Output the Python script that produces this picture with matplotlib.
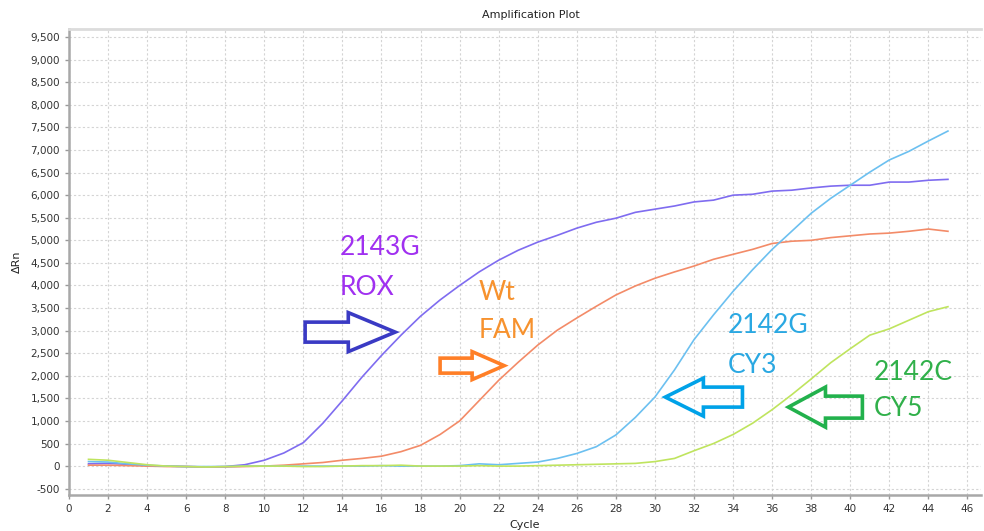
import matplotlib
matplotlib.use('Agg')
import matplotlib.pyplot as plt
import matplotlib.patches as mpatches
import numpy as np

cycles = np.arange(1, 46)

rox = [50, 60, 40, 10, 0, -10, -20, -10, 30, 130, 290, 520, 950, 1450, 1970,
       2450, 2900, 3320, 3680, 4000, 4300, 4560, 4780, 4960, 5110, 5270, 5400,
       5490, 5620, 5690, 5760, 5850, 5890, 6000, 6020, 6090, 6110, 6160, 6200,
       6220, 6220, 6290, 6290, 6330, 6350]
fam = [20, 20, 10, 0, -10, -10, -20, -20, -10, 0, 20, 50, 80, 130, 170,
       220, 320, 460, 700, 1000, 1450, 1900, 2300, 2680, 3010, 3280, 3540,
       3790, 3990, 4160, 4300, 4430, 4580, 4690, 4800, 4930, 4980, 5000, 5060,
       5100, 5140, 5160, 5200, 5250, 5200]
cy3 = [100, 90, 50, 20, 0, -10, -10, -10, 0, 0, 0, 0, 0, 0, 0,
       10, 0, 0, 0, 10, 50, 30, 60, 90, 170, 280, 430, 690, 1080, 1530,
       2130, 2800, 3350, 3870, 4350, 4800, 5200, 5600, 5930, 6220, 6510, 6780,
       6970, 7200, 7420]
cy5 = [150, 130, 80, 30, 0, -10, -20, -10, 0, 0, 0, -10, -10, 0, 10,
       10, 20, 0, 0, 0, 10, 0, 0, 10, 20, 30, 40, 50, 60, 100,
       170, 340, 500, 700, 950, 1250, 1580, 1930, 2290, 2600, 2900, 3040,
       3230, 3420, 3530]

series = [("ROX", rox, "#7f6cf0"), ("FAM", fam, "#f38b68"),
          ("CY3", cy3, "#6cc0f0"), ("CY5", cy5, "#bfe45e")]

# labels: (text lines, x, y top line, y bottom line, colour)
labels = [("2143G", "ROX", 13.88, 4850, 3964, "#a030f0"),
          ("Wt", "FAM", 20.95, 3853, 3012, "#f7922e"),
          ("2142G", "CY3", 33.71, 3122, 2237, "#2aa8e2"),
          ("2142C", "CY5", 41.19, 2082, 1284, "#30b04a")]

# hollow arrows: tail x, tip x, y, body width, head width, head length, colour
arrows = [(12.09, 16.70, 2967, 443, 864, 2.4, "#3a3ac4"),
          (19.00, 22.28, 2225, 332, 620, 1.64, "#ff7f27"),
          (34.48, 30.53, 1528, 443, 841, 1.95, "#00a2e8"),
          (40.62, 36.83, 1306, 487, 886, 1.9, "#22b14c")]

fig = plt.figure(figsize=(9.84, 5.31), dpi=100)
ax = fig.add_axes([0.0701, 0.0678, 0.927, 0.8776])

for name, vals, col in series:
    ax.plot(cycles, vals, color=col, linewidth=1.2)

for top, bot, x, y1, y2, col in labels:
    ax.text(x, y1, top, color=col, fontsize=19, family="Lato", va="center", ha="left")
    ax.text(x, y2, bot, color=col, fontsize=19, family="Lato", va="center", ha="left")

for x0, x1, y, w, hw, hl, col in arrows:
    arr = mpatches.FancyArrow(x0, y, x1 - x0, 0, width=w, head_width=hw,
                              head_length=hl, length_includes_head=True,
                              fill=False, edgecolor=col, linewidth=2.6,
                              joinstyle="miter")
    ax.add_patch(arr)

ax.set_xlim(0, 46.7)
ax.set_ylim(-640, 9680)
ax.set_xticks(np.arange(0, 47, 2))
ax.set_yticks(np.arange(-500, 9501, 500))
ax.set_yticklabels([f"{v:,}" for v in range(-500, 9501, 500)])
ax.tick_params(labelsize=7.5, colors="#333333", length=3, width=1, color="#999999")

ax.grid(True, color="#d4d4d4", linestyle=(0, (2, 2)), linewidth=0.8)
ax.set_axisbelow(True)

for s in ["left", "bottom"]:
    ax.spines[s].set_color("#a8a8a8")
    ax.spines[s].set_linewidth(1.8)
ax.spines["top"].set_color("#dcdcdc")
ax.spines["top"].set_linewidth(2)
ax.spines["right"].set_visible(False)

ax.set_xlabel("Cycle", fontsize=8, color="#222222", labelpad=4)
ax.set_ylabel("ΔRn", fontsize=8, color="#222222", labelpad=6)
fig.text(0.54, 0.972, "Amplification Plot", fontsize=8, color="#222222",
         ha="center", va="center")

fig.savefig("out.png", dpi=100, facecolor="white")
